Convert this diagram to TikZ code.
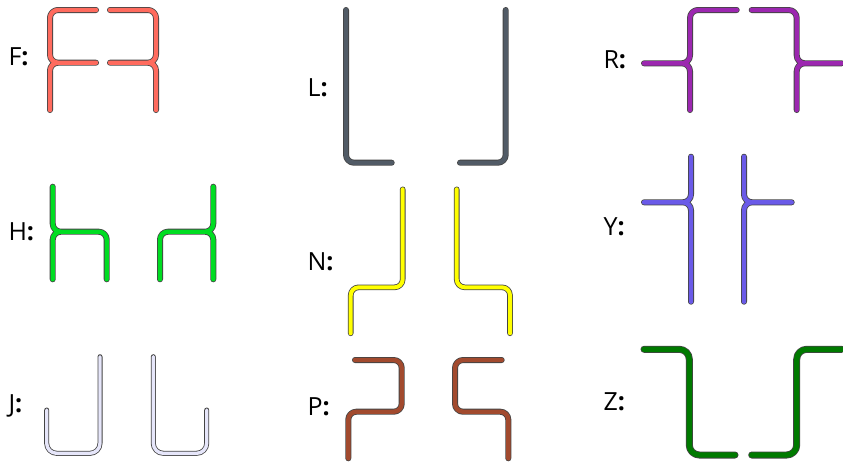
\documentclass[tikz,border=0pt]{standalone}
\usepackage{fontspec}
\setmainfont{Open Sans}
\usepackage{tikz}
\definecolor{fcol}{HTML}{FF6B5E}
\definecolor{hcol}{HTML}{00DD22}
\definecolor{jcol}{HTML}{E6E6FA}
\definecolor{lcol}{HTML}{515B66}
\definecolor{ncol}{HTML}{FFFF00}
\definecolor{pcol}{HTML}{A24A2E}
\definecolor{rcol}{HTML}{9C27B0}
\definecolor{ycol}{HTML}{6A5AE8}
\definecolor{zcol}{HTML}{007A00}
\definecolor{rim}{HTML}{444444}
\begin{document}
\begin{tikzpicture}[x=1pt,y=-1pt,
		bar/.style={draw=rim, line width=0.8pt, double distance=4.4pt, line cap=round, line join=round, rounded corners=8pt},
		label/.style={font=\fontsize{25}{25}\selectfont, anchor=west}]
				\useasboundingbox (0,0) rectangle (843,464);
				
				% left column
				\node[label] (F) at (5,57) {F\textbf{:}};
				\draw[bar, double=fcol] (96,10) -- (50,10) -- (50,62.7) -- (96,62.7)
					(50,110) -- (50,62.7) -- (75,62.7);
				\draw[bar, double=fcol] (110,10) -- (156,10) -- (156,62.7) -- (110,62.7)
					(156,110) -- (156,62.7) -- (130,62.7);
				
				\node[label] (H) at (5,232) {H\textbf{:}};
				\draw[bar, double=hcol] (52.7,186.7) -- (52.7,231.7) -- (106.7,231.7) -- (106.7,279.3)
					(52.7,279.3) -- (52.7,231.7) -- (80,231.7);
				\draw[bar, double=hcol] (213.3,186.7) -- (213.3,231.7) -- (160,231.7) -- (160,279.3)
					(213.3,279.3) -- (213.3,231.7) -- (186,231.7);
				
				\node[label] (J) at (5,406) {J\textbf{:}};
				\draw[bar, double=jcol, double distance=3.4pt, rounded corners=10pt] (46.7,410) -- (46.7,453.3) -- (100,453.3) -- (100,356.7);
				\draw[bar, double=jcol, double distance=3.4pt, rounded corners=10pt] (153.3,356.7) -- (153.3,453.3) -- (206.7,453.3) -- (206.7,410);
				
				% middle column
				\node[label] (L) at (304,88) {L\textbf{:}};
				\draw[bar, double=lcol] (346,10) -- (346,162.7) -- (391.7,162.7);
				\draw[bar, double=lcol] (505.7,10) -- (505.7,162.7) -- (460,162.7);
				
				\node[label] (N) at (304,262) {N\textbf{:}};
				\draw[bar, double=ncol, double distance=4pt] (402.7,189.3) -- (402.7,287.3) -- (350.7,287.3) -- (350.7,333.3);
				\draw[bar, double=ncol, double distance=4pt] (456.7,189.3) -- (456.7,287.3) -- (510,287.3) -- (510,333.3);
				
				\node[label] (P) at (304,407) {P\textbf{:}};
				\draw[bar, double=pcol] (355,360) -- (401.7,360) -- (401.7,411.7) -- (348.3,411.7) -- (348.3,458.3);
				\draw[bar, double=pcol] (501.7,360) -- (455,360) -- (455,411.7) -- (508.3,411.7) -- (508.3,458.3);
				
				% right column
				\node[label] (R) at (600,60) {R\textbf{:}};
				\draw[bar, double=rcol] (736.7,10) -- (690,10) -- (690,63.3) -- (644,63.3)
					(690,110) -- (690,63.3) -- (665,63.3);
				\draw[bar, double=rcol] (751.7,10) -- (796.7,10) -- (796.7,63.3) -- (841.7,63.3)
					(796.7,110) -- (796.7,63.3) -- (820,63.3);
				
				\node[label] (Y) at (600,227) {Y\textbf{:}};
				\draw[bar, double=ycol] (691,156.7) -- (691,202.3) -- (644,202.3)
					(691,301.7) -- (691,202.3) -- (665,202.3);
				\draw[bar, double=ycol] (744,156.7) -- (744,202.3) -- (791.7,202.3)
					(744,301.7) -- (744,202.3) -- (770,202.3);
				
				\node[label] (Z) at (600,402) {Z\textbf{:}};
				\draw[bar, double=zcol, double distance=5.4pt, rounded corners=10pt] (644,349.3) -- (689.3,349.3) -- (689.3,455) -- (735,455);
				\draw[bar, double=zcol, double distance=5.4pt, rounded corners=10pt] (751.7,455) -- (796.7,455) -- (796.7,349.3) -- (841.7,349.3);
			\end{tikzpicture}
\end{document}
